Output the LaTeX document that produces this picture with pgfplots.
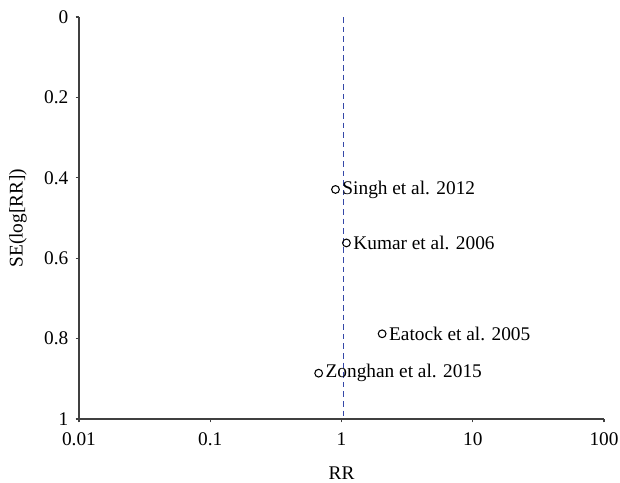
\documentclass[border=0pt]{standalone}
\usepackage{fontspec}
\setmainfont{Liberation Serif}
\usepackage{pgfplots}
\pgfplotsset{compat=1.18}
\definecolor{axgray}{HTML}{404040}
\definecolor{dashblue}{HTML}{3447A8}
\begin{document}
\begin{tikzpicture}
\begin{axis}[
  name=ax,
  width=393.75pt, height=301.5pt,
  scale only axis,
  xmode=log,
  xmin=0.01, xmax=100,
  ymin=0, ymax=1,
  y dir=reverse,
  axis lines=left,
  axis line style={-, axgray, line width=1pt},
  xtick={0.01,0.1,1,10,100},
  xticklabels={0.01,0.1,1,10,100},
  ytick={0,0.2,0.4,0.6,0.8,1},
  yticklabels={0,0.2,0.4,0.6,0.8,1},
  tick align=outside,
  major tick length=2.5pt,
  tick style={axgray, line width=0.8pt},
  xminorticks=false,
  font=\fontsize{14.5}{17}\selectfont,
  tick label style={font=\fontsize{14.5}{17}\selectfont},
  yticklabel style={xshift=-2pt},
  xticklabel style={yshift=-4.5pt},
  /pgf/number format/assume math mode=true,
  xlabel={RR},
  ylabel={SE(log[RR])},
  xlabel style={at={([yshift=-40.5pt]rel axis cs:0.5,0)}, anchor=center},
  ylabel style={at={([xshift=-45.75pt]rel axis cs:0,0.5)}, anchor=center},
  clip=false,
]
\addplot[dashblue, line width=1pt, dash pattern=on 4.2pt off 3pt] coordinates {(1.03,0) (1.03,1)};
\addplot[only marks, mark=o, mark size=2.9pt, black, line width=0.8pt,
  nodes near coords, point meta=explicit symbolic,
  every node near coord/.append style={anchor=west, xshift=1.5pt, yshift=0pt, black, font=\fontsize{14.5}{17}\selectfont}]
  coordinates {
  (0.90,0.429) [Singh et al. 2012]
  (1.09,0.562) [Kumar et al. 2006]
  (2.04,0.788) [Eatock et al. 2005]
  (0.67,0.886) [Zonghan et al. 2015]
};
\end{axis}
\pgfresetboundingbox
\useasboundingbox ([shift={(-59.25pt,-47.25pt)}]ax.south west) rectangle ([shift={(12pt,12.75pt)}]ax.north east);
\end{tikzpicture}
\end{document}
